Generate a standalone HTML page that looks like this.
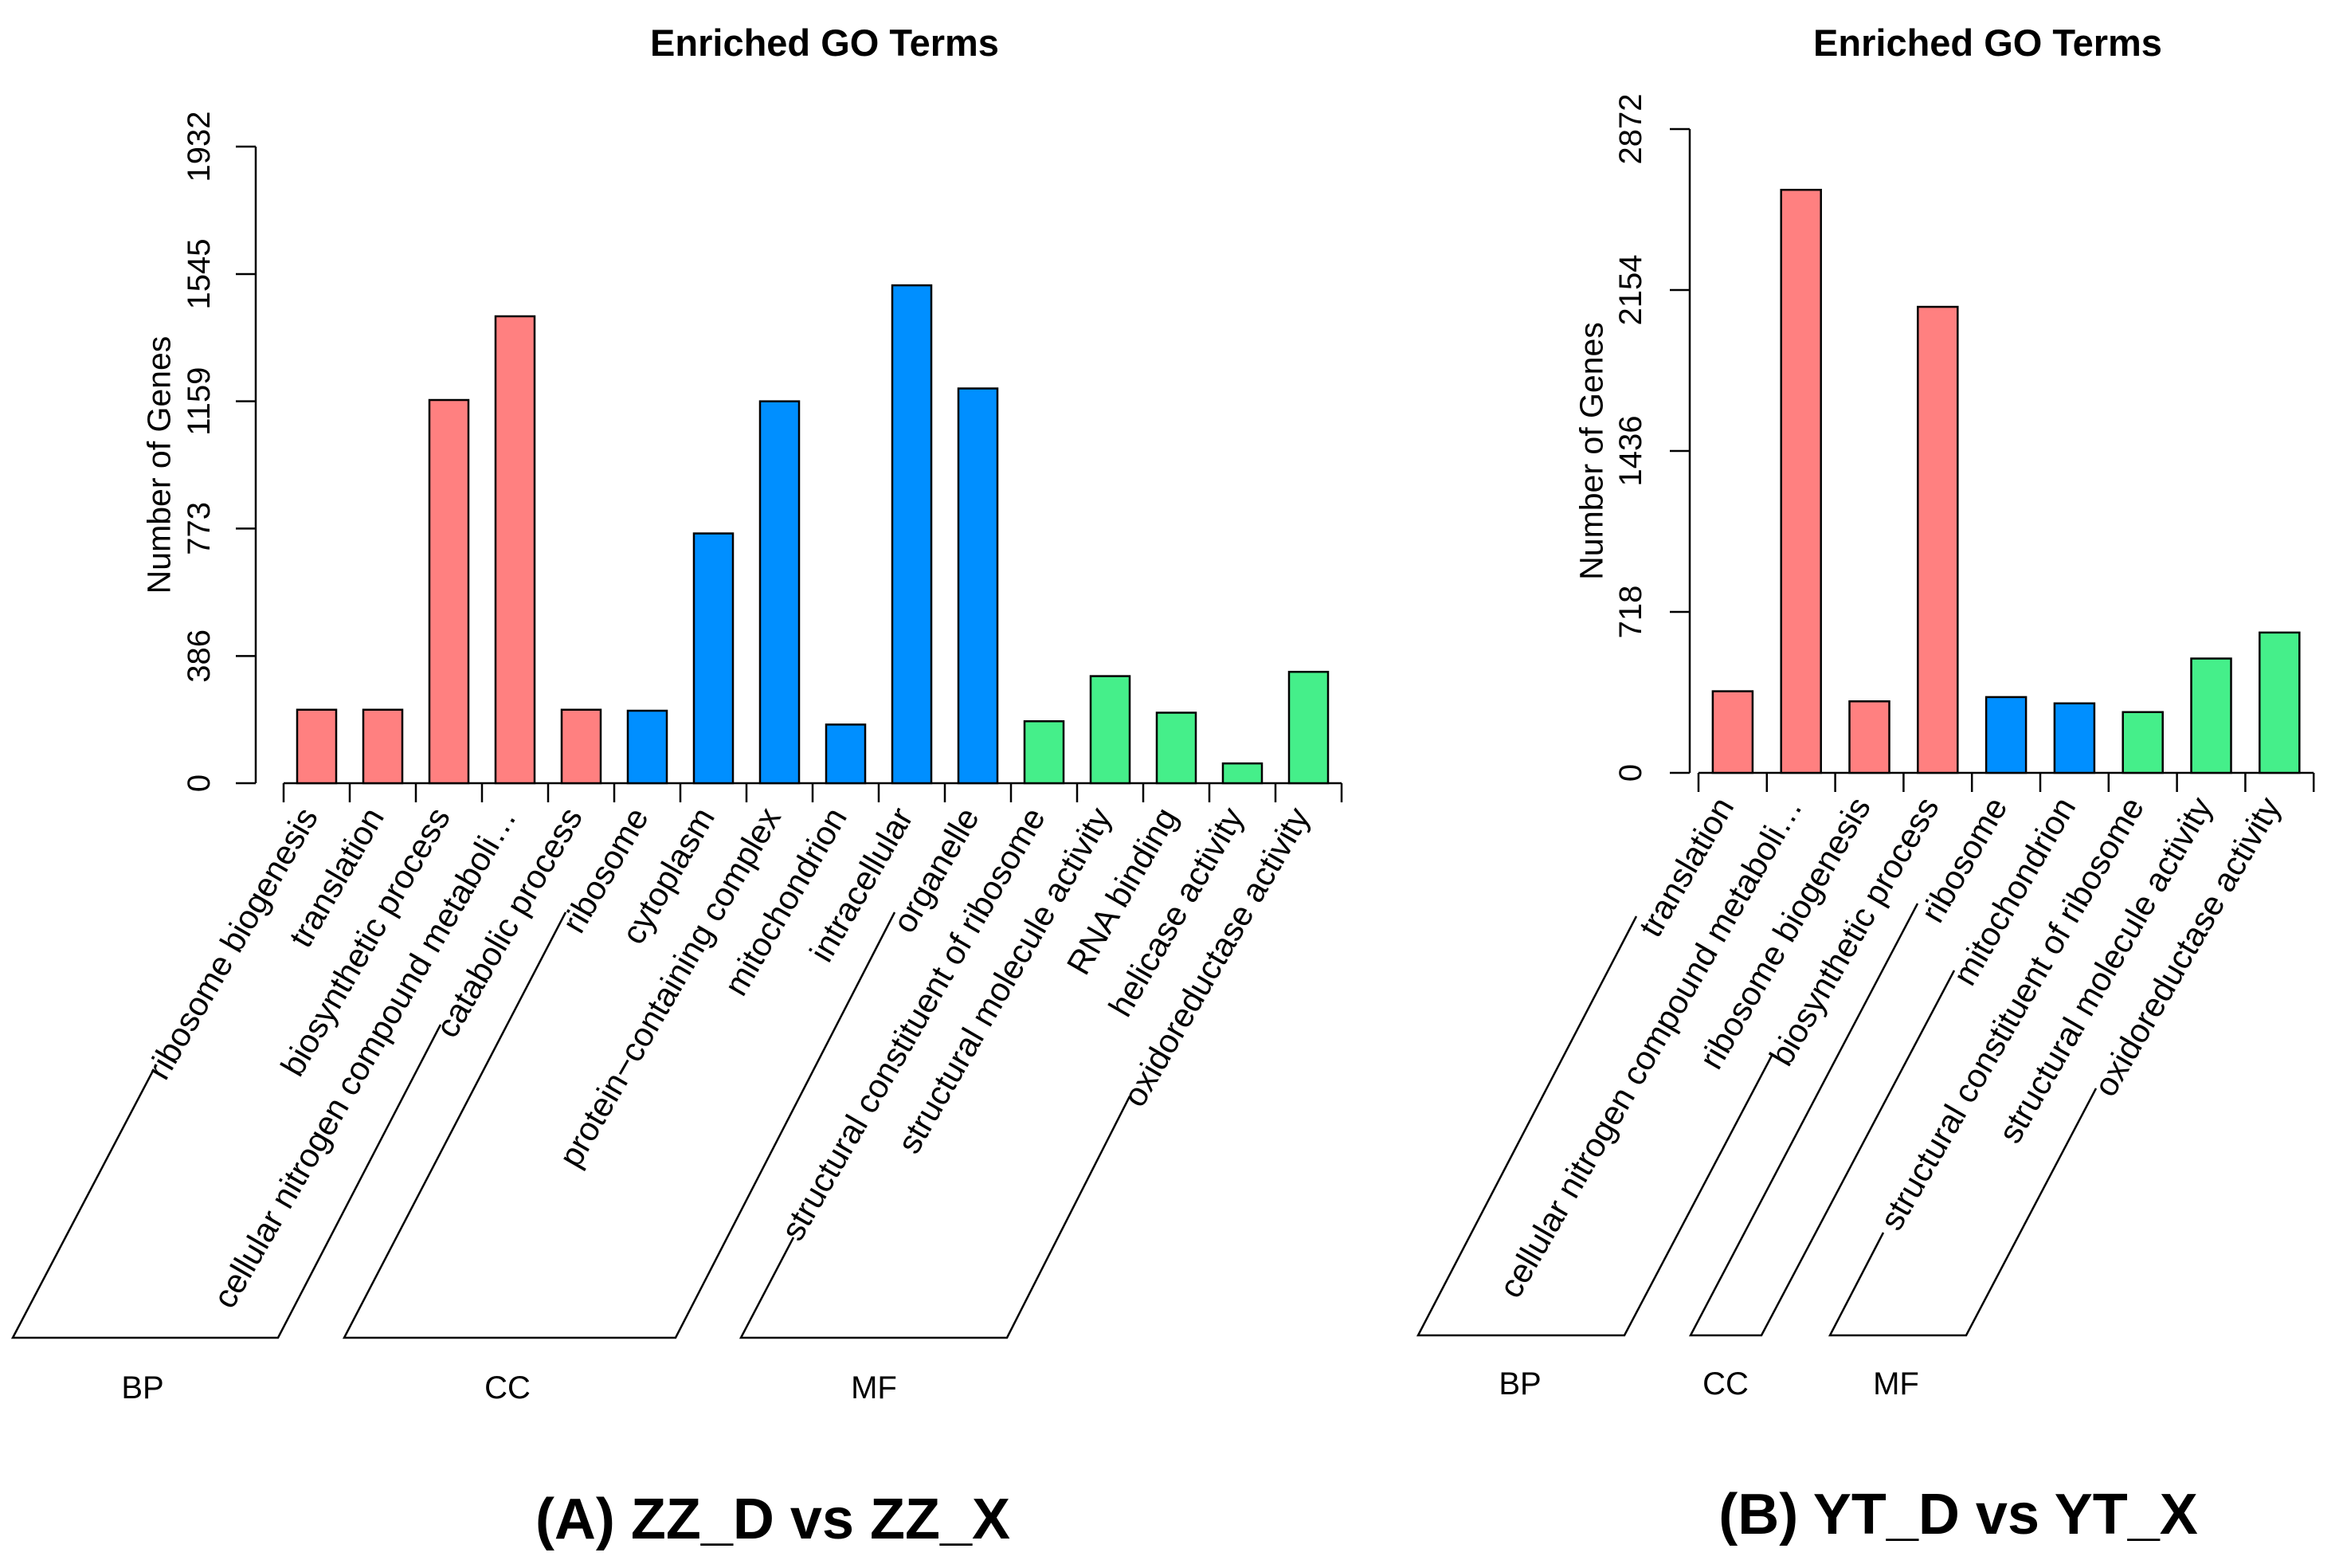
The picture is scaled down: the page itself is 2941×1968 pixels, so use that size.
<!DOCTYPE html>
<html><head><meta charset="utf-8"><style>
html,body{margin:0;padding:0;background:#fff;}
svg{display:block;font-family:"Liberation Sans",Arial,sans-serif;}
</style></head><body>
<svg id="fig" width="2941" height="1968" viewBox="0 0 2941 1968" xmlns="http://www.w3.org/2000/svg">
<g id="chartA"></g>
<g id="chartB"></g>
</svg>
<script>
const catsA = ["ribosome biogenesis","translation","biosynthetic process","cellular nitrogen compound metaboli\u2026","catabolic process","ribosome","cytoplasm","protein\u2212containing complex","mitochondrion","intracellular","organelle","structural constituent of ribosome","structural molecule activity","RNA binding","helicase activity","oxidoreductase activity"];
const groupsA = ["BP","BP","BP","BP","BP","CC","CC","CC","CC","CC","CC","MF","MF","MF","MF","MF"];
const valuesA = [223,223,1163,1417,223,220,758,1159,178,1511,1198,188,325,214,60,338];
const ticksA = [0,386,773,1159,1545,1932];

const catsB = ["translation","cellular nitrogen compound metaboli\u2026","ribosome biogenesis","biosynthetic process","ribosome","mitochondrion","structural constituent of ribosome","structural molecule activity","oxidoreductase activity"];
const groupsB = ["BP","BP","BP","BP","CC","CC","MF","MF","MF"];
const valuesB = [364,2601,319,2079,338,310,271,510,626];
const ticksB = [0,718,1436,2154,2872];

const colors = {BP:"#FF8080", CC:"#008FFF", MF:"#45EF8A"};
const NS = "http://www.w3.org/2000/svg";
function mk(parent, tag, attrs, text){
  const e = document.createElementNS(NS, tag);
  for (const k in attrs) e.setAttribute(k, attrs[k]);
  if (text !== undefined) e.textContent = text;
  parent.appendChild(e);
  return e;
}

function drawChart(g, cfg){
  const {cats, groups, values, ticks, x0, catW, barW, yBase, yTop, axisX, tickLabX, yTitleX, labY, labDX, titleX, brackets, groupLabels, bottomTitle} = cfg;
  const maxV = ticks[ticks.length-1];
  const yS = v => yBase - v / maxV * (yBase - yTop);
  const xS = i => x0 + i * catW;

  const title = mk(g, "text", {x: titleX, y: 70, "text-anchor":"middle", "font-size":47, "font-weight":"bold"}, "Enriched GO Terms");
  
  

  const ya = mk(g, "line", {x1:axisX, y1:yS(0), x2:axisX, y2:yS(maxV), stroke:"#000", "stroke-width":2.5});
  
  
  ticks.forEach(t => {
    const tl = mk(g, "line", {x1:axisX-25, y1:yS(t), x2:axisX, y2:yS(t), stroke:"#000", "stroke-width":2.5});
    
    
    const tx = mk(g, "text", {x:tickLabX, y:yS(t), "text-anchor":"middle", "font-size":40, transform:`rotate(-90 ${tickLabX} ${yS(t)})`, dy:"0.35em"}, String(t));
    
    
  });
  const yMid = (yS(0)+yS(maxV))/2;
  const yt = mk(g, "text", {x:yTitleX, y:yMid, "text-anchor":"middle", "font-size":41, dy:"0.35em", transform:`rotate(-90 ${yTitleX} ${yMid})`}, "Number of Genes");
  
  

  const n = cats.length;
  const xa = mk(g, "line", {x1:xS(0), y1:yBase, x2:xS(n), y2:yBase, stroke:"#000", "stroke-width":2.5});
  
  
  for (let i=0;i<=n;i++){
    const tk = mk(g, "line", {x1:xS(i), y1:yBase, x2:xS(i), y2:yBase+24, stroke:"#000", "stroke-width":2.5});
    
    
  }
  values.forEach((v,i) => {
    const bx = xS(i) + (catW-barW)/2;
    const r = mk(g, "rect", {x:bx, y:yS(v), width:barW, height:yBase-yS(v), fill:colors[groups[i]], stroke:"#000", "stroke-width":2.5});
    
    
    const cx = xS(i) + catW/2;
    const px = cx + labDX, py = labY;
    const lt = mk(g, "text", {x:px, y:py, "text-anchor":"end", "font-size":42, dy:"0.35em", transform:`rotate(-60 ${px} ${py})`}, cats[i]);
    
    
  });

  brackets.forEach(b => {
    const pl = mk(g, "polyline", {points:b.map(p=>p.join(",")).join(" "), fill:"none", stroke:"#000", "stroke-width":2.5});
    
    
  });
  groupLabels.forEach(gl => {
    const t = mk(g, "text", {x:gl[1], y:gl[2], "text-anchor":"middle", "font-size":40}, gl[0]);
    
    
  });
  const bt = mk(g, "text", {x:bottomTitle[1], y:bottomTitle[2], "text-anchor":"middle", "font-size":72, "font-weight":"bold"}, bottomTitle[0]);
  
  
}

drawChart(document.getElementById("chartA"), {
  cats:catsA, groups:groupsA, values:valuesA, ticks:ticksA,
  x0:356, catW:83, barW:49, yBase:983, yTop:184, axisX:321, tickLabX:249, yTitleX:199, labY:1017, labDX:-10, titleX:1035,
  brackets:[
    [[193,1342],[16,1679],[349,1679],[553,1286]],
    [[710,1145],[432,1679],[848,1679],[1123,1145]],
    [[996,1553],[930,1679],[1264,1679],[1418,1376]]
  ],
  groupLabels:[["BP",179,1755],["CC",637,1755],["MF",1097,1755]],
  bottomTitle:["(A) ZZ_D vs ZZ_X",970,1931]
});
drawChart(document.getElementById("chartB"), {
  cats:catsB, groups:groupsB, values:valuesB, ticks:ticksB,
  x0:2132, catW:85.8, barW:50, yBase:970, yTop:162, axisX:2121, tickLabX:2046, yTitleX:1997, labY:1004, labDX:-10, titleX:2495,
  brackets:[
    [[2054,1150],[1780,1676],[2039,1676],[2225,1323]],
    [[2407,1134],[2122,1676],[2211,1676],[2453,1218]],
    [[2364,1547],[2297,1676],[2468,1676],[2631,1366]]
  ],
  groupLabels:[["BP",1908,1750],["CC",2166,1750],["MF",2380,1750]],
  bottomTitle:["(B) YT_D vs YT_X",2458,1925]
});
</script>
</body></html>
